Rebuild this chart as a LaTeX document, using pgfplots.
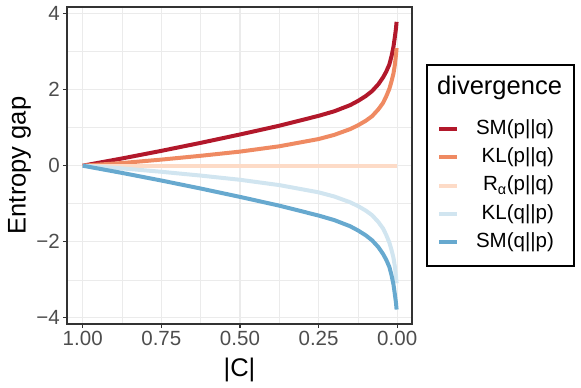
\documentclass[border=0pt]{standalone}
\usepackage{fontspec}
\setmainfont{Liberation Sans}
\usepackage{pgfplots}
\pgfplotsset{compat=1.18}

\definecolor{smpq}{HTML}{B2182B}
\definecolor{klpq}{HTML}{EF8A62}
\definecolor{rapq}{HTML}{FDDBC7}
\definecolor{klqp}{HTML}{D1E5F0}
\definecolor{smqp}{HTML}{67A9CF}
\definecolor{gridgrey}{HTML}{EBEBEB}
\definecolor{grey20}{HTML}{333333}
\definecolor{grey30}{HTML}{4D4D4D}

\newcommand{\ticksize}{\fontsize{20.6}{24}\selectfont}
\newcommand{\titlesize}{\fontsize{25.6}{30}\selectfont}

\begin{document}
\begin{tikzpicture}
\path[use as bounding box] (0,0) rectangle (581bp,388bp);
\begin{axis}[
    at={(67bp,64bp)}, anchor=south west,
    width=345bp, height=317bp, scale only axis,
    x dir=reverse,
    xmin=-0.047, xmax=1.05,
    ymin=-4.16, ymax=4.17,
    xtick={0,0.25,0.5,0.75,1},
    xticklabels={0.00,0.25,0.50,0.75,1.00},
    ytick={-4,-2,0,2,4},
    yticklabels={−4,−2,0,2,4},
    minor xtick={0.125,0.375,0.625,0.875},
    minor ytick={-3,-1,1,3},
    grid=both,
    major grid style={draw=gridgrey, line width=1.1bp},
    minor grid style={draw=gridgrey, line width=0.6bp},
    tick pos=left,
    tick align=outside,
    major tick length=4bp,
    minor tick length=0pt,
    tick style={draw=grey20, line width=1.1bp},
    axis line style={draw=grey20, line width=1.1bp},
    /pgf/number format/assume math mode=true,
    ticklabel style={font=\ticksize, text=grey30},
    xticklabel style={inner sep=0pt, yshift=-3bp},
    yticklabel style={inner sep=0pt, xshift=-3bp},
    xlabel={|C|},
    ylabel={Entropy gap},
    label style={font=\titlesize, inner sep=0pt},
    x label style={at={(axis description cs:0.5,0)}, anchor=north, yshift=-34bp},
    y label style={at={(axis description cs:-0.171,0.5)}, anchor=north},
    clip=false,
    legend cell align=right,
    legend style={at={(rel axis cs:1.0725,0.6457)}, anchor=north west,
        draw=none, fill=none, inner sep=0pt, outer sep=0pt,
        row sep=9bp, column sep=17bp, font=\ticksize,
        nodes={inner sep=0pt, text height=15bp, text depth=4.3bp}},
    legend image code/.code={\draw[#1] (0bp,0bp) -- (18bp,0bp);},
    every axis plot/.append style={line width=4bp, no markers},
]
\addplot[smpq] coordinates {
(1.0,0) (0.875,0.19) (0.75,0.39) (0.625,0.60) (0.5,0.82) (0.375,1.05)
(0.25,1.31) (0.2,1.43) (0.15,1.59) (0.125,1.70) (0.1,1.83) (0.08,1.96)
(0.06,2.14) (0.045,2.32) (0.035,2.47) (0.025,2.66) (0.018,2.88)
(0.012,3.12) (0.008,3.35) (0.004,3.60) (0.002,3.78)
};
\addlegendentry{SM(p||q)}
\addplot[klpq] coordinates {
(1.0,0) (0.875,0.07) (0.75,0.16) (0.625,0.26) (0.5,0.37) (0.375,0.51)
(0.25,0.70) (0.2,0.81) (0.15,0.96) (0.125,1.06) (0.1,1.18) (0.08,1.30)
(0.06,1.48) (0.045,1.65) (0.035,1.82) (0.025,2.02) (0.018,2.22)
(0.012,2.42) (0.008,2.62) (0.004,2.90) (0.002,3.09)
};
\addlegendentry{KL(p||q)}
\addplot[rapq] coordinates {(1.0,0) (0.5,0) (0.002,0)};
\addlegendentry{R\textsubscript{α}(p||q)}
\addplot[klqp] coordinates {
(1.0,0) (0.875,-0.07) (0.75,-0.16) (0.625,-0.26) (0.5,-0.37) (0.375,-0.51)
(0.25,-0.70) (0.2,-0.81) (0.15,-0.96) (0.125,-1.06) (0.1,-1.18) (0.08,-1.30)
(0.06,-1.48) (0.045,-1.65) (0.035,-1.82) (0.025,-2.02) (0.018,-2.22)
(0.012,-2.42) (0.008,-2.62) (0.004,-2.90) (0.002,-3.09)
};
\addlegendentry{KL(q||p)}
\addplot[smqp] coordinates {
(1.0,0) (0.875,-0.19) (0.75,-0.39) (0.625,-0.60) (0.5,-0.82) (0.375,-1.05)
(0.25,-1.31) (0.2,-1.43) (0.15,-1.59) (0.125,-1.70) (0.1,-1.83) (0.08,-1.96)
(0.06,-2.14) (0.045,-2.32) (0.035,-2.47) (0.025,-2.66) (0.018,-2.88)
(0.012,-3.12) (0.008,-3.35) (0.004,-3.60) (0.002,-3.78)
};
\addlegendentry{SM(q||p)}
\draw[black, line width=1.1bp] (rel axis cs:1.0435,0.183) rectangle (rel axis cs:1.4696,0.817);
\node[anchor=west, inner sep=0pt, font=\titlesize] at (rel axis cs:1.0725,0.7445) {divergence};
\end{axis}
\end{tikzpicture}
\end{document}
